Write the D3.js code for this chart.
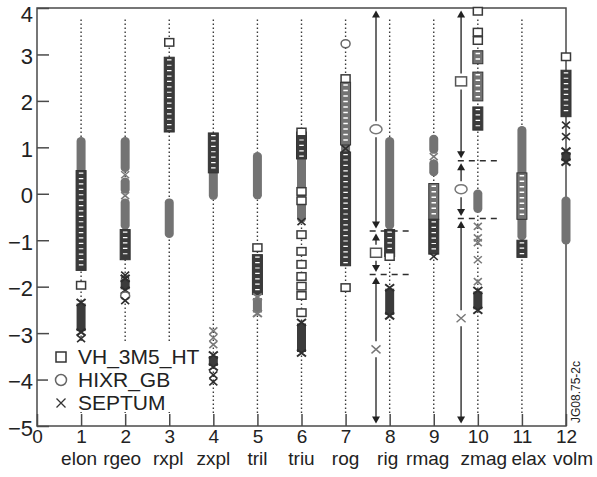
<!DOCTYPE html>
<html>
<head>
<meta charset="utf-8">
<script src="https://cdn.jsdelivr.net/npm/d3@7"></script>
<style>
body { margin: 0; background: #fff; }
text { font-family: "Liberation Sans", Arial, sans-serif; fill: #222; }
</style>
</head>
<body>
<script>
// variable names along the x axis (1..12)
var varNames = ["elon","rgeo","rxpl","zxpl","tril","triu","rog","rig","rmag","zmag","elax","volm"];
var xTickVals = [0,1,2,3,4,5,6,7,8,9,10,11,12];
var yTickVals = [-5,-4,-3,-2,-1,0,1,2,3,4];

// dense clusters: [variable, low, high, tone]
var circleRanges = [
    [1, -0.2, 1.22, "light"],
    [2, 0.47, 1.22, "light"], [2, 0.0, 0.35, "light"], [2, -0.77, -0.1, "light"],
    [3, -0.95, -0.1, "light"],
    [4, -0.13, 0.9, "light"],
    [5, -0.12, 0.9, "light"],
    [6, -0.62, 1.3, "light"],
    [7, -1.55, 2.45, "light"],
    [8, -0.77, 1.22, "light"],
    [9, 0.86, 1.27, "light"], [9, 0.38, 0.74, "light"],
    [10, -0.41, 0.09, "light"],
    [11, -1.0, 1.46, "light"],
    [12, -1.09, -0.06, "light"]
];
var squareRanges = [
    [1, -1.65, 0.5, "dark"],
    [2, -1.42, -0.77, "dark"],
    [3, 1.33, 2.94, "dark"],
    [4, 0.45, 1.31, "dark"],
    [5, -2.17, -1.31, "dark"],
    [6, 0.75, 1.33, "dark"],
    [7, 1.05, 2.4, "light"], [7, -1.55, 0.9, "dark"],
    [8, -1.35, -0.77, "dark"],
    [9, -0.55, 0.22, "light"], [9, -1.3, -0.55, "dark"],
    [10, 2.8, 3.08, "light"], [10, 2.0, 2.62, "light"], [10, 1.37, 1.87, "dark"],
    [11, -0.55, 0.45, "light"], [11, -1.37, -1.0, "dark"],
    [12, 1.66, 2.66, "dark"]
];
var crossRanges = [
    [1, -3.0, -2.32, "dark"],
    [2, -2.1, -1.8, "dark"],
    [4, -3.75, -3.45, "dark"],
    [5, -2.6, -2.2, "light"],
    [6, -3.45, -2.75, "dark"],
    [8, -2.65, -2.0, "dark"],
    [10, -2.53, -2.06, "dark"],
    [12, 0.66, 0.94, "dark"]
];

// single markers: [variable, value(, tone)]
var squarePoints = [
    [1, -1.97], [3, 3.26], [5, -1.16],
    [6, 1.33], [6, 0.05], [6, -0.15], [6, -0.88], [6, -1.24], [6, -1.52],
    [6, -1.78], [6, -1.99], [6, -2.19], [6, -2.56],
    [7, 2.48], [7, -2.02], [8, -1.35],
    [10, 3.93], [10, 3.48], [10, 3.3],
    [12, 2.95]
];
var circlePoints = [[2, -2.2], [7, 3.23]];
var crossPoints = [
    [1, -3.12, "dark"], [2, -1.75, "dark"], [2, -2.3, "dark"], [2, 0.41, "light"], [2, -0.04, "light"],
    [4, -2.95, "light"], [4, -3.1, "light"], [4, -3.25, "light"], [4, -3.9, "dark"], [4, -4.05, "dark"],
    [6, -0.6, "dark"], [7, 0.97, "dark"], [9, 0.8, "light"], [9, -1.35, "dark"],
    [10, -0.7, "light"], [10, -0.95, "light"], [10, -1.05, "light"], [10, -1.42, "light"], [10, -1.89, "light"],
    [12, 1.48, "dark"], [12, 1.23, "dark"]
];

// limit markers with arrows: [variable, shape, value, low limit, high limit]
var limitLineX = [[8, 7.69], [10, 9.62]];
var thresholds = [[8, -0.8], [8, -1.74], [10, 0.71], [10, -0.53]];
var limitMarks = [
    [8, "circle", 1.39, -0.8, 4], [8, "square", -1.27, -1.74, -0.8], [8, "cross", -3.35, -5, -1.74],
    [10, "square", 2.42, 0.71, 4], [10, "circle", 0.1, -0.53, 0.71], [10, "cross", -2.68, -5, -0.53]
];

var legendNames = ["VH_3M5_HT", "HIXR_GB", "SEPTUM"];
var legendShapes = ["square", "circle", "cross"];

var toneFill = {light: "#737373", dark: "#3b3b3b"};
var toneStroke = {light: "#7a7a7a", dark: "#2e2e2e"};

var svg = d3.select("body").append("svg")
    .attr("width", 597)
    .attr("height", 477);

var x = d3.scaleLinear().domain([0, 12]).range([37, 566]);
var y = d3.scaleLinear().domain([-5, 4]).range([426, 8]);

// dotted guide lines
svg.append("g").selectAll("line")
    .data(varNames.slice(0, 11))
    .join("line")
    .attr("x1", function(d, i){ return x(i + 1); })
    .attr("x2", function(d, i){ return x(i + 1); })
    .attr("y1", y(3.75))
    .attr("y2", y(-4.72))
    .attr("stroke", "#3a3a3a")
    .attr("stroke-width", 1.4)
    .attr("stroke-dasharray", "1.4,2.6");

// frame
svg.append("rect")
    .attr("x", x(0)).attr("y", y(4))
    .attr("width", x(12) - x(0)).attr("height", y(-5) - y(4))
    .attr("fill", "none")
    .attr("stroke", "#4a4a4a")
    .attr("stroke-width", 1.5);

// axes with inward ticks
var yAxis = svg.append("g")
    .attr("transform", "translate(" + x(0) + ",0)")
    .call(d3.axisLeft(y).tickValues(yTickVals).tickSizeInner(-12).tickSizeOuter(0).tickPadding(4)
        .tickFormat(function(d){ return d < 0 ? "\u2212" + Math.abs(d) : d; }));
yAxis.select(".domain").remove();
yAxis.selectAll("line").attr("stroke", "#4a4a4a").attr("stroke-width", 1.5);
yAxis.selectAll("text").attr("font-size", 22).attr("font-family", "Liberation Sans, Arial, sans-serif")
    .attr("fill", "#222")
    .attr("y", function(d){ return d == 4 ? 6 : 2; });

var xAxis = svg.append("g")
    .attr("transform", "translate(0," + y(-5) + ")")
    .call(d3.axisBottom(x).tickValues(xTickVals).tickSizeInner(-12).tickSizeOuter(0).tickPadding(4));
xAxis.select(".domain").remove();
xAxis.selectAll("line").attr("stroke", "#4a4a4a").attr("stroke-width", 1.5);
xAxis.selectAll("text").attr("font-size", 19).attr("font-family", "Liberation Sans, Arial, sans-serif")
    .attr("fill", "#222").attr("y", 4).attr("dy", "0.71em");

// names under the numbers; the last four are nudged apart as in the original
var nameShift = [-2, -3, -1, 0, 0, 0, 0, -2, -6, 6, 7, 7];
svg.append("g").selectAll("text")
    .data(varNames)
    .join("text")
    .attr("x", function(d, i){ return x(i + 1) + nameShift[i]; })
    .attr("y", 465)
    .attr("text-anchor", "middle")
    .attr("font-size", 19)
    .text(function(d){ return d; });

// marker helpers
function drawSquare(g, cx, cy, w, h, stroke){
    g.append("rect")
        .attr("x", cx - w / 2).attr("y", cy - h / 2)
        .attr("width", w).attr("height", h)
        .attr("fill", "#fff")
        .attr("stroke", stroke)
        .attr("stroke-width", 1.5);
}
function drawCircle(g, cx, cy, rx, ry, stroke){
    g.append("ellipse")
        .attr("cx", cx).attr("cy", cy)
        .attr("rx", rx).attr("ry", ry)
        .attr("fill", "#fff")
        .attr("stroke", stroke)
        .attr("stroke-width", 1.5);
}
function drawCross(g, cx, cy, hw, hh, stroke, sw){
    g.append("path")
        .attr("d", "M" + (cx - hw) + "," + (cy - hh) + "L" + (cx + hw) + "," + (cy + hh) +
            "M" + (cx - hw) + "," + (cy + hh) + "L" + (cx + hw) + "," + (cy - hh))
        .attr("stroke", stroke)
        .attr("stroke-width", sw)
        .attr("fill", "none");
}

var marks = svg.append("g");

// circle clusters: rounded gray bars
marks.selectAll("rect.cr")
    .data(circleRanges)
    .join("rect")
    .attr("class", "cr")
    .attr("x", function(d){ return x(d[0]) - 4.5; })
    .attr("y", function(d){ return y(d[2]); })
    .attr("width", 9)
    .attr("height", function(d){ return y(d[1]) - y(d[2]); })
    .attr("rx", 4.5).attr("ry", 4)
    .attr("fill", function(d){ return toneFill[d[3]]; });

// square clusters: bars with the white interiors of stacked squares
squareRanges.forEach(function(d){
    var cx = x(d[0]), top = y(d[2]), bot = y(d[1]);
    marks.append("rect")
        .attr("x", cx - 5).attr("y", top)
        .attr("width", 10).attr("height", bot - top)
        .attr("fill", toneFill[d[3]])
        .attr("stroke", "#333")
        .attr("stroke-width", 1);
    if (bot - top > 6) {
        marks.append("line")
            .attr("x1", cx).attr("x2", cx)
            .attr("y1", top + 2).attr("y2", bot - 2)
            .attr("stroke", "#fff")
            .attr("stroke-width", 4.5)
            .attr("stroke-dasharray", d[3] == "light" ? "1.5,4" : "1.2,4.2");
    }
});

// cross clusters: dark bars with x-shaped ends
crossRanges.forEach(function(d){
    var cx = x(d[0]), top = y(d[2]), bot = y(d[1]);
    marks.append("rect")
        .attr("x", cx - 4.5).attr("y", top + 2)
        .attr("width", 9).attr("height", Math.max(bot - top - 4, 1))
        .attr("fill", toneFill[d[3]]);
    drawCross(marks, cx, top + 1, 4.5, 3.5, toneStroke[d[3]], 2);
    drawCross(marks, cx, bot - 1, 4.5, 3.5, toneStroke[d[3]], 2);
});

squarePoints.forEach(function(d){ drawSquare(marks, x(d[0]), y(d[1]), 9, 7.5, "#3a3a3a"); });
circlePoints.forEach(function(d){ drawCircle(marks, x(d[0]), y(d[1]), 4.5, 4, "#666"); });
crossPoints.forEach(function(d){ drawCross(marks, x(d[0]), y(d[1]), 4, 3.5, toneStroke[d[2]], 1.6); });

// threshold dashes and limit arrows
var lineX = {};
limitLineX.forEach(function(d){ lineX[d[0]] = d[1]; });

svg.append("g").selectAll("line")
    .data(thresholds)
    .join("line")
    .attr("x1", function(d){ return x(d[0]) - 20; })
    .attr("x2", function(d){ return x(d[0]) + 20; })
    .attr("y1", function(d){ return y(d[1]); })
    .attr("y2", function(d){ return y(d[1]); })
    .attr("stroke", "#2e2e2e")
    .attr("stroke-width", 1.5)
    .attr("stroke-dasharray", "6,5");

var arrows = svg.append("g");
limitMarks.forEach(function(d){
    var lx = x(lineX[d[0]]), cy = y(d[2]);
    var tipTop = y(d[4]) + 2.5, tipBot = y(d[3]) - 2.5;
    var gap = 8;
    arrows.append("line")
        .attr("x1", lx).attr("x2", lx)
        .attr("y1", tipTop + 5).attr("y2", cy - gap)
        .attr("stroke", "#2e2e2e").attr("stroke-width", 1.4);
    arrows.append("line")
        .attr("x1", lx).attr("x2", lx)
        .attr("y1", cy + gap).attr("y2", tipBot - 5)
        .attr("stroke", "#2e2e2e").attr("stroke-width", 1.4);
    // arrowheads
    arrows.append("path")
        .attr("d", "M" + lx + "," + tipTop + "L" + (lx - 4) + "," + (tipTop + 7) + "L" + (lx + 4) + "," + (tipTop + 7) + "Z")
        .attr("fill", "#222");
    arrows.append("path")
        .attr("d", "M" + lx + "," + tipBot + "L" + (lx - 4) + "," + (tipBot - 7) + "L" + (lx + 4) + "," + (tipBot - 7) + "Z")
        .attr("fill", "#222");
    if (d[1] == "square") drawSquare(arrows, lx, cy, 11, 9, "#555");
    if (d[1] == "circle") drawCircle(arrows, lx, cy, 6, 4.5, "#777");
    if (d[1] == "cross") drawCross(arrows, lx, cy, 4.5, 4, "#777", 1.4);
});

// legend on a white patch
var legend = svg.append("g");
legend.append("rect")
    .attr("x", 48).attr("y", 343)
    .attr("width", 155).attr("height", 69)
    .attr("fill", "#fff");
legendNames.forEach(function(name, i){
    var cy = 357 + i * 23;
    if (legendShapes[i] == "square") drawSquare(legend, 61, cy, 10, 10, "#333");
    if (legendShapes[i] == "circle") drawCircle(legend, 61, cy, 5.5, 5.5, "#666");
    if (legendShapes[i] == "cross") drawCross(legend, 61, cy, 4.5, 4.5, "#333", 1.3);
    legend.append("text")
        .attr("x", 78).attr("y", cy + 7)
        .attr("font-size", 21)
        .text(name);
});

// figure code on the right
svg.append("text")
    .attr("transform", "translate(580,423) rotate(-90)")
    .attr("font-size", 12)
    .text("JG08.75-2c");
</script>
</body>
</html>
